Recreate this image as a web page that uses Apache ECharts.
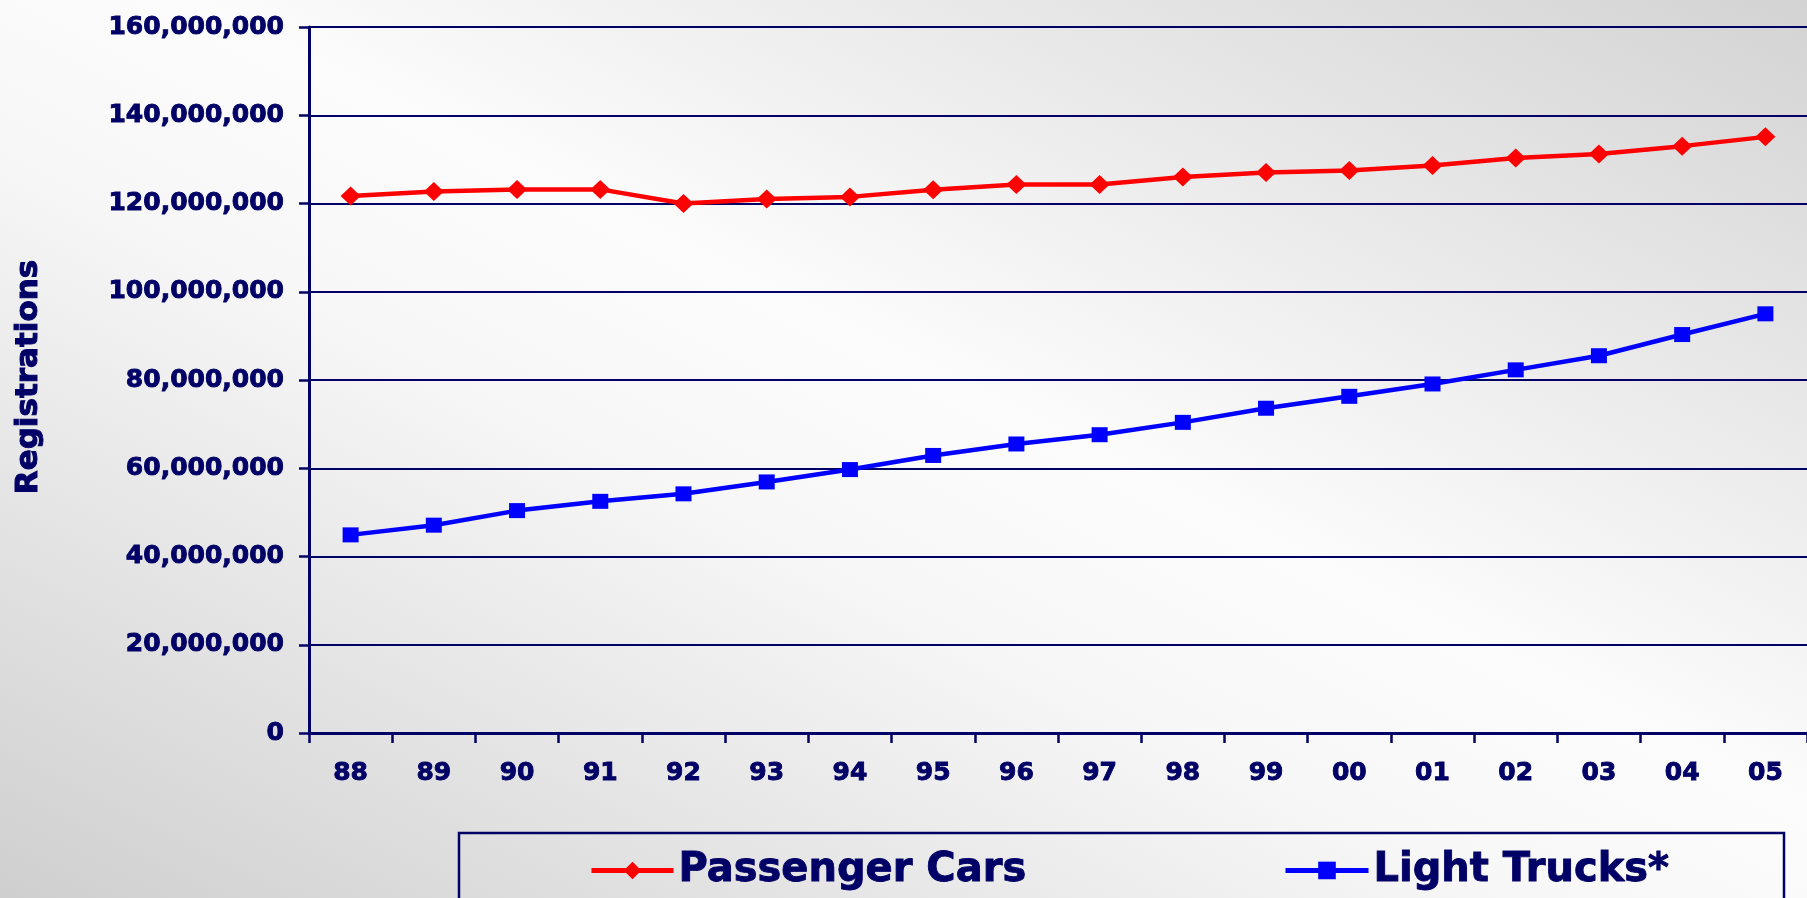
<!DOCTYPE html>
<html>
<head>
<meta charset="utf-8">
<script src="https://cdn.jsdelivr.net/npm/echarts@6/dist/echarts.min.js"></script>
<style>
html,body{margin:0;padding:0;width:1807px;height:898px;overflow:hidden;}
#chart{width:1807px;height:898px;}
</style>
</head>
<body>
<div id="chart"></div>
<script>
const years = ['88','89','90','91','92','93','94','95','96','97','98','99','00','01','02','03','04','05'];
const passengerCars = [121700000,122700000,123200000,123200000,120000000,121000000,121500000,123100000,124300000,124300000,126000000,127000000,127500000,128600000,130300000,131200000,133000000,135100000];
const lightTrucks = [44900000,47100000,50400000,52500000,54200000,56900000,59700000,62900000,65500000,67600000,70400000,73600000,76300000,79100000,82300000,85500000,90300000,95000000];
const seriesNames = ['Passenger Cars','Light Trucks*'];
const yAxisTitle = 'Registrations';

const NAVY = '#000066';
const FONT = 'DejaVu Sans';

const chart = echarts.init(document.getElementById('chart'), null, {renderer:'canvas'});

function fmt(v){ return String(v).replace(/\B(?=(\d{3})+(?!\d))/g, ','); }

const boldText = {color:NAVY, fontFamily:FONT, fontWeight:'bold', textBorderColor:NAVY, textBorderWidth:0.9};

const option = {
  animation:false,
  backgroundColor:{
    type:'linear', global:true, x:546, y:1169, x2:1262, y2:-271,
    colorStops:[
      {offset:0, color:'#cfcfcf'},
      {offset:0.42, color:'#f7f7f7'},
      {offset:0.55, color:'#fcfcfc'},
      {offset:1, color:'#d3d3d3'}
    ]
  },
  grid:{left:309, right:-11, top:27, bottom:165, containLabel:false},
  xAxis:{
    type:'category', data:years, boundaryGap:true,
    axisLine:{lineStyle:{color:NAVY, width:3}},
    axisTick:{show:true, length:10, inside:false, alignWithLabel:false, lineStyle:{color:NAVY, width:2.5}},
    axisLabel:Object.assign({fontSize:25, margin:28, interval:0}, boldText),
    splitLine:{show:false}
  },
  yAxis:{
    type:'value', min:0, max:160000000, interval:20000000,
    axisLine:{show:true, lineStyle:{color:NAVY, width:3}},
    axisTick:{show:true, length:10, lineStyle:{color:NAVY, width:2.5}},
    axisLabel:Object.assign({fontSize:25, margin:25, formatter:fmt}, boldText),
    splitLine:{show:true, lineStyle:{color:NAVY, width:2.2}}
  },
  legend:[
    {data:[seriesNames[0]], left:584, top:845, itemWidth:82, itemHeight:22, itemGap:0,
     lineStyle:{width:5}, textStyle:Object.assign({fontSize:40}, boldText)},
    {data:[seriesNames[1]], left:1278, top:845, itemWidth:83, itemHeight:22, itemGap:0,
     lineStyle:{width:5}, textStyle:Object.assign({fontSize:40}, boldText)}
  ],
  graphic:[
    {type:'rect', shape:{x:459, y:833, width:1325, height:80}, style:{fill:'none', stroke:NAVY, lineWidth:2.5}, silent:true},
    {type:'text', x:29, y:377, rotation:Math.PI/2,
     style:{text:yAxisTitle, fill:NAVY, stroke:NAVY, lineWidth:1, font:'bold 31px "DejaVu Sans"', textAlign:'center', textVerticalAlign:'middle'}}
  ],
  series:[
    {name:seriesNames[0], type:'line', data:passengerCars, symbol:'diamond', symbolSize:[20,19],
     itemStyle:{color:'#ff0000'}, lineStyle:{color:'#ff0000', width:4.5}},
    {name:seriesNames[1], type:'line', data:lightTrucks, symbol:'rect', symbolSize:[16,15],
     itemStyle:{color:'#0000ff'}, lineStyle:{color:'#0000ff', width:4.5}}
  ]
};
chart.setOption(option);
</script>
</body>
</html>
